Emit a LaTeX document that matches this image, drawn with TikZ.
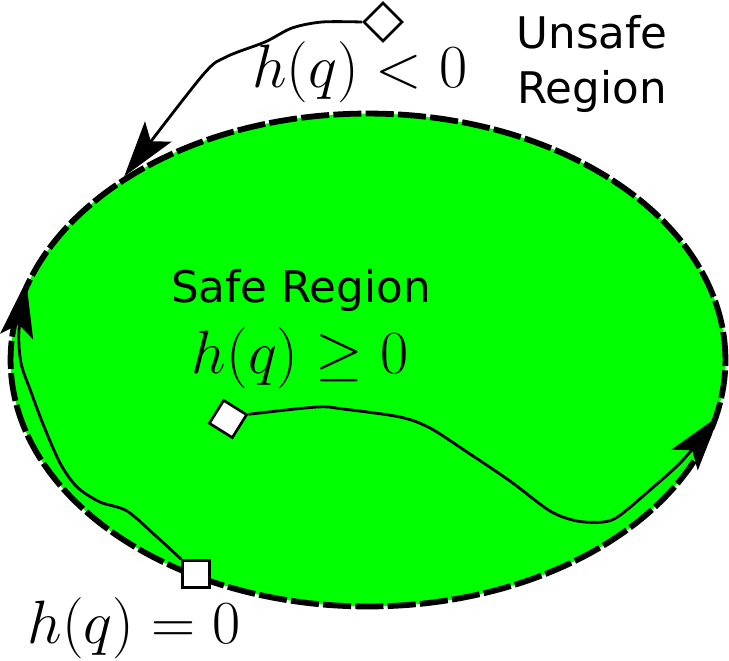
\documentclass[tikz,border=0pt]{standalone}
\usepackage{amsmath,amssymb}
\usepackage{fontspec}
\newfontfamily\regionfont{DejaVu Sans}
\usepackage{tikz}
\usetikzlibrary{arrows.meta,shapes.geometric}

\definecolor{safegreen}{RGB}{0,255,0}
\tikzset{
    marker/.style={shape=rectangle, draw=black, fill=white, line width=1.5pt, minimum size=0.54cm, inner sep=0pt},
    trajectory/.style={line width=1.6pt, -{Stealth[length=32pt, width=19pt, inset=7pt]}},
    mathlabel/.style={inner sep=0pt, font=\Huge, scale=1.40},
    regionlabel/.style={inner sep=0pt, align=center, font=\regionfont\fontsize{24.8}{31.5}\selectfont}
}

\begin{document}
\begin{tikzpicture}[x=0.02cm, y=-0.02cm]
    \useasboundingbox (0,0) rectangle (729,660);
    \node[shape=ellipse, fill=safegreen, draw=black, line width=3.3pt, dash pattern=on 16pt off 2.4pt,
        minimum width=14.3cm, minimum height=9.86cm, inner sep=0pt] (safe) at (368,360) {};

    \node[marker, rotate=45] (T) at (383,22) {};
    \node[marker, rotate=-32] (C) at (228,419) {};
    \node[marker] (B) at (196,574) {};

    \draw[trajectory] plot[smooth] coordinates {(T.north west) (322,22) (292,28) (265,42) (226,57) (202,76) (safe.143)};
    \draw[trajectory] plot[smooth] coordinates {(C.north east) (317,407) (343,409) (400,417) (430,428) (467,452) (510,481) (550,511) (577,521) (603,522) (619,516) (650,490) (683,460) (safe.-9)};
    \draw[trajectory] plot[smooth] coordinates {(B.north west) (157,537) (127,511) (100,502) (77,487) (60,463) (43,424) (31,392) (21,363) (19,330) (safe.167)};

    \node[mathlabel] (hless) at (360,72) {$h(q) < 0$};
    \node[mathlabel] (hgeq) at (300,358) {$h(q) \geq 0$};
    \node[mathlabel] (heq) at (134,628) {$h(q) = 0$};
    \node[regionlabel] (unsafe) at (592,64) {Unsafe\\Region};
    \node[regionlabel] (saferegion) at (301,290) {Safe Region};
\end{tikzpicture}
\end{document}
